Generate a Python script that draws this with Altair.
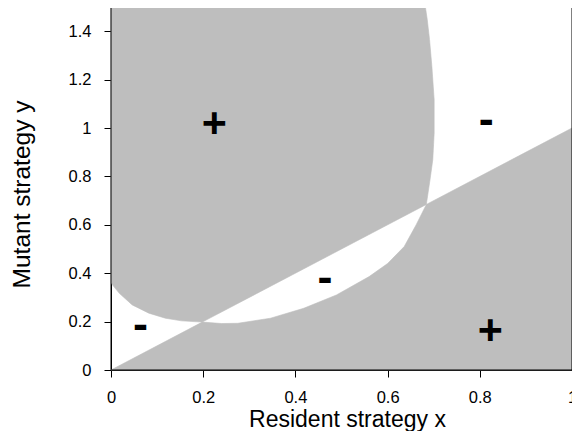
import altair as alt
import pandas as pd

# Boundary curve of the invasion-fitness zero contour
curve_x = [0.0, 0.018, 0.046, 0.082, 0.118, 0.153, 0.198, 0.24, 0.275, 0.346,
           0.418, 0.489, 0.56, 0.60, 0.636, 0.662, 0.684, 0.692, 0.698, 0.701,
           0.701, 0.696, 0.691, 0.686, 0.682]
curve_y = [0.359, 0.317, 0.269, 0.235, 0.214, 0.203, 0.198, 0.192, 0.193, 0.214,
           0.255, 0.310, 0.386, 0.44, 0.51, 0.60, 0.684, 0.786, 0.869, 0.979,
           1.117, 1.255, 1.365, 1.448, 1.5]
i_p1 = 6    # index where curve meets diagonal (first singular strategy)
i_p2 = 16   # index where curve meets diagonal (second singular strategy)

# signs of invasion fitness
sign_x = [0.224, 0.823, 0.814, 0.464, 0.064]
sign_y = [1.021, 0.165, 1.023, 0.370, 0.175]
sign_t = ["+", "+", "-", "-", "-"]

x_ticks = [0, 0.2, 0.4, 0.6, 0.8, 1.0]
y_ticks = [0, 0.2, 0.4, 0.6, 0.8, 1.0, 1.2, 1.4]
X_MAX, Y_MAX = 1.0, 1.5

# polygons
rows = []
def add(poly, pts):
    for k, (a, b) in enumerate(pts):
        rows.append({"poly": poly, "i": k, "x": a, "y": b})

curve = list(zip(curve_x, curve_y))
# upper "+" region: above diagonal, inside curve
polyA = [(0, Y_MAX)] + curve[:i_p1 + 1] + curve[i_p2:] + [(0, Y_MAX)]
# lower "+" region: below diagonal, outside curve
polyB = [(0, 0)] + curve[i_p1:i_p2 + 1] + [(X_MAX, X_MAX), (X_MAX, 0), (0, 0)]
add("A", polyA)
add("B", polyB)
df = pd.DataFrame(rows)

signs = pd.DataFrame({"x": sign_x, "y": sign_y, "t": sign_t})

GRAY = "#bebebe"
FONT = "Liberation Sans"
W, H = 461, 363

xs = alt.Scale(domain=[0, X_MAX], nice=False, zero=False)
ys = alt.Scale(domain=[0, Y_MAX], nice=False, zero=False)

xaxis = alt.Axis(values=x_ticks, format="~g", title="Resident strategy x",
                 grid=False, tickSize=7, labelPadding=25, labelBaseline="alphabetic",
                 labelFlush=False, labelOverlap=False, titleX=236, titleY=56.5,
                 titleFontSize=23, titleBaseline="alphabetic", titleAnchor="middle",
                 titleAlign="center")
yaxis = alt.Axis(values=y_ticks, format="~g", title="Mutant strategy y",
                 grid=False, tickSize=7, labelPadding=13, labelAngle=0,
                 labelAlign="right", labelBaseline="middle",
                 labelFlush=False, labelOverlap=False, titleX=-81.5, titleY=187,
                 titleAngle=270, titleBaseline="alphabetic", titleAlign="center")

regions = alt.Chart(df).mark_line(fill=GRAY, stroke=GRAY, strokeWidth=0.6,
                                  interpolate="linear").encode(
    x=alt.X("x:Q", scale=xs, axis=xaxis),
    y=alt.Y("y:Q", scale=ys, axis=yaxis),
    detail="poly:N",
    order="i:Q",
)

plus = alt.Chart(signs[signs.t == "+"]).mark_text(
    font=FONT, fontSize=43, fontWeight="bold", color="black",
    baseline="alphabetic", align="center", dy=14.4).encode(
    x=alt.X("x:Q", scale=xs), y=alt.Y("y:Q", scale=ys), text="t:N")

minus = alt.Chart(signs[signs.t == "-"]).mark_text(
    font=FONT, fontSize=45, fontWeight="bold", color="black",
    baseline="alphabetic", align="center", dy=11.5).encode(
    x=alt.X("x:Q", scale=xs), y=alt.Y("y:Q", scale=ys), text="t:N")

frame = alt.Chart(pd.DataFrame({"a": [0]})).mark_rect(
    filled=False, stroke="black", strokeWidth=1, fillOpacity=0).encode(
    x=alt.datum(0, scale=xs), x2=alt.datum(X_MAX),
    y=alt.datum(0, scale=ys), y2=alt.datum(Y_MAX))

chart = alt.layer(regions, plus, minus, frame).properties(
    width=W, height=H,
    background="white",
    autosize=alt.AutoSizeParams(type="none"),
    padding={"left": 103, "top": -1, "right": 0, "bottom": 61},
).configure_view(stroke="black", strokeWidth=1, fill="white").configure_axis(
    domainColor="black", tickColor="black", labelColor="black", titleColor="black",
    labelFont=FONT, titleFont=FONT, labelFontSize=16.5, titleFontSize=24.5,
    titleFontWeight="normal", domainWidth=1, tickWidth=1, zindex=1,
)

chart.save("out.html", embed_options={"renderer": "svg", "actions": False})
